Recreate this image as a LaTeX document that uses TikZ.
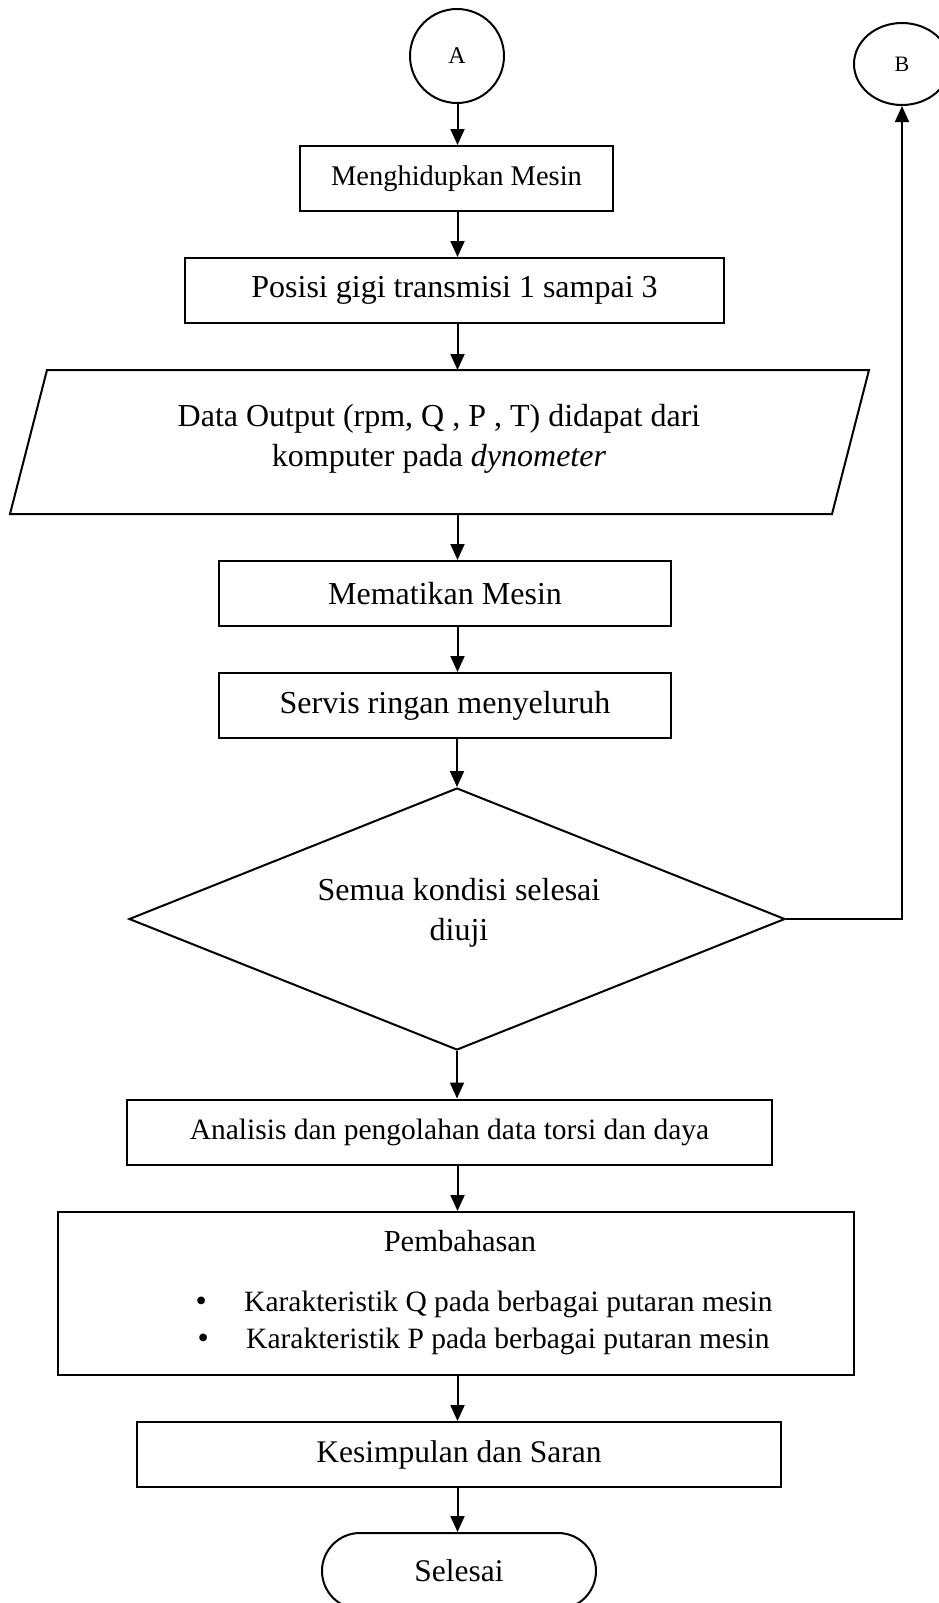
\documentclass[tikz,border=0pt]{standalone}
\usepackage{fontspec}
\setmainfont{Liberation Serif}
\usetikzlibrary{shapes.geometric,shapes.misc,arrows.meta}
\newcommand\fz[2]{\fontsize{#1pt}{#2pt}\selectfont}
\newcommand\bulitem{\makebox[48.5pt][l]{\fz{32}{37}•}}
\begin{document}
\begin{tikzpicture}[x=1pt,y=-1pt,
  box/.style={draw,line width=2pt,inner sep=0pt,minimum height=65pt},
  arr/.style={line width=2pt,-{Triangle[length=16pt,width=14pt]}},
  para/.style={line width=2pt},
  txtA/.style={font=\fz{32}{40}},
  txtB/.style={font=\fz{29.5}{37}}]
\useasboundingbox (0,0) rectangle (939,1603);
\fill[white] (0,0) rectangle (939,1603);
\coordinate (ax) at (457.5,0);
% connectors A, B
\node[circle,draw,line width=2pt,minimum size=94pt,inner sep=0pt,font=\fz{24}{29}] (A) at (457,56) {A};
\node[ellipse,draw,line width=2pt,minimum width=96pt,minimum height=82pt,inner sep=0pt,font=\fz{22}{26}] (B) at (902,64) {B};
% boxes
\node[box,minimum width=313pt,font=\fz{28.5}{34}] (n1) at (456.5,178.5) {Menghidupkan Mesin};
\node[box,minimum width=539pt,txtA] (n2) at (454.5,290.5) {Posisi gigi transmisi 1 sampai 3};
% parallelogram
\coordinate (p1) at (47,370);
\coordinate (p2) at (869,370);
\coordinate (p3) at (832,514);
\coordinate (p4) at (10,514);
\draw[para] (p1) -- (p2) -- (p3) -- (p4) -- cycle;
\coordinate (n3t) at (457.5,370);
\coordinate (n3b) at (457.5,514);
\node[align=center,txtA] (n3) at (439,438.5) {Data Output (rpm, Q , P , T) didapat dari\\komputer pada \textit{dynometer}};
\node[box,minimum width=452pt,txtA] (n4) at (445,593.5) {Mematikan Mesin};
\node[box,minimum width=452pt,txtA] (n5) at (445,705.5) {Servis ringan menyeluruh};
% decision
\node[diamond,draw,line width=2pt,minimum width=656pt,minimum height=262pt,inner sep=0pt] (d) at (457,919) {};
\node[align=center,txtA] (dt) at (459,913) {Semua kondisi selesai\\diuji};
\node[box,minimum width=645pt,txtB] (n6) at (449.5,1132) {Analisis dan pengolahan data torsi dan daya};
% discussion box
\node[box,minimum width=796pt,minimum height=163pt] (n7) at (456,1293.5) {};
\node[font=\fz{30.5}{37},anchor=base] (n7h) at (460,1251) {Pembahasan};
\node[txtB,anchor=base west,inner sep=0pt] (l1) at (195.5,1311) {\bulitem Karakteristik Q pada berbagai putaran mesin};
\node[txtB,anchor=base west,inner sep=0pt] (l2) at (197.5,1348) {\bulitem Karakteristik P pada berbagai putaran mesin};
\node[box,minimum width=644pt,font=\fz{31.5}{38}] (n8) at (459,1454.5) {Kesimpulan dan Saran};
\node[rounded rectangle,draw,line width=2pt,minimum width=274pt,minimum height=76pt,inner sep=0pt,font=\fz{31.5}{38}] (n9) at (459,1571) {Selesai};
% arrows
\draw[arr] (A.south -| ax) -- (n1.north -| ax);
\draw[arr] (n1.south -| ax) -- (n2.north -| ax);
\draw[arr] (n2.south -| ax) -- (n3t);
\draw[arr] (n3b) -- (n4.north -| ax);
\draw[arr] (n4.south -| ax) -- (n5.north -| ax);
\draw[arr] (n5.south -| d.north) -- (d.north);
\draw[arr] (d.south) -- (n6.north -| d.south);
\draw[arr] (n6.south -| ax) -- (n7.north -| ax);
\draw[arr] (n7.south -| ax) -- (n8.north -| ax);
\draw[arr] (n8.south -| ax) -- (n9.north -| ax);
\draw[line width=1.2pt] (d.east) -- (d.east -| B.south) coordinate (bc);
\draw[arr] ([yshift=-0.6pt]bc) -- (B.south);
\end{tikzpicture}
\end{document}
